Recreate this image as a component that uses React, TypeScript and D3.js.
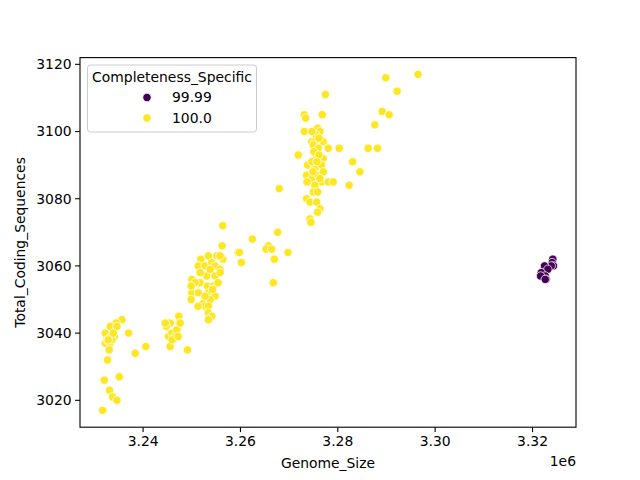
import React from "react";
import * as d3 from "d3";

// Completeness_Specific = 100.0
const genomeSize100: number[] = [
  3235650, 3234480, 3233250, 3234630, 3232230, 3237010, 3234130, 3233460, 3232230, 3233250,
  3232580, 3233600, 3233050, 3232700, 3238380, 3240570, 3232020, 3235100, 3233110, 3233720,
  3234630, 3231670, 3232850, 3233870,
  3247340, 3247470, 3245560, 3244740, 3245210, 3245910, 3246580, 3246930, 3245560, 3249110,
  3244530, 3247610, 3245970, 3247200,
  3256370, 3256220, 3251860, 3253410, 3255140, 3256370, 3255810, 3251360, 3252740, 3254110,
  3254790, 3255810, 3253090, 3254790, 3255810, 3250010, 3251710, 3253210, 3254440, 3250010,
  3251360, 3253410, 3254790, 3249870, 3252390, 3253760, 3252740, 3253410, 3253410, 3254110,
  3253410, 3250690, 3249870, 3251710, 3254270, 3252740, 3255400, 3253760, 3251300,
  3262440, 3267650, 3265720, 3265250, 3266420, 3266950, 3259500, 3259770, 3260180, 3266750,
  3269760,
  3277450, 3273100, 3273390, 3276800, 3273100, 3275850, 3276320, 3275500, 3274620, 3275300,
  3277000, 3274950, 3275970, 3278030, 3280280, 3271870, 3275650, 3277000, 3273800, 3275300,
  3276670, 3273600, 3274740, 3275970, 3277000, 3276670, 3278030, 3279050, 3275300, 3274950,
  3267980, 3273600, 3274270, 3275650, 3276320, 3275850, 3274270, 3274480,
  3283030, 3284530, 3282330, 3286230, 3288160, 3287600, 3289100, 3290540, 3289860, 3292180,
  3296490,
  3275090, 3276110, 3274680, 3275710, 3274890, 3276320, 3273670, 3275850, 3276110, 3274680,
];
const codingSeq100: number[] = [
  3044, 3043, 3042, 3042, 3040, 3040, 3039, 3039, 3037, 3037,
  3038, 3038, 3035, 3032, 3034, 3036, 3026, 3027, 3023, 3021,
  3020, 3017, 3038, 3040,
  3045, 3043, 3043, 3042, 3039, 3040, 3039, 3041, 3036, 3035,
  3043, 3043, 3038, 3039,
  3072, 3066, 3062, 3063, 3063, 3062, 3063, 3060, 3060, 3061,
  3060, 3059, 3057, 3057, 3058, 3056, 3055, 3054, 3054, 3052,
  3052, 3052, 3051, 3050, 3049, 3050, 3048, 3048, 3046, 3045,
  3044, 3055, 3054, 3058, 3053, 3051, 3055, 3059, 3048,
  3068, 3070, 3066, 3065, 3065, 3062, 3064, 3064, 3061, 3055,
  3064,
  3111, 3105, 3104, 3105, 3100, 3101, 3100, 3099, 3097, 3097,
  3097, 3096, 3095, 3095, 3095, 3093, 3092, 3092, 3090, 3089,
  3090, 3087, 3086, 3087, 3088, 3085, 3085, 3085, 3084, 3082,
  3083, 3080, 3079, 3079, 3077, 3076, 3074, 3073,
  3091, 3088, 3084, 3095, 3095, 3102, 3106, 3105, 3116, 3112,
  3117,
  3094, 3093, 3091, 3091, 3088, 3086, 3085, 3082, 3098, 3100,
];

// Completeness_Specific = 99.99
const genomeSize9999: number[] = [
  3324170, 3324050, 3324300, 3323850, 3322470, 3323150, 3321790, 3322610, 3321650, 3322790, 3322610,
];
const codingSeq9999: number[] = [
  3062, 3061, 3060, 3060, 3060, 3059, 3058, 3057, 3057, 3056, 3056,
];

const legendTitle = "Completeness_Specific";
const legendLabels = ["99.99", "100.0"];
const seriesColors = ["#440154", "#fde725"];
const xTicks = [3240000, 3260000, 3280000, 3300000, 3320000];
const yTicks = [3020, 3040, 3060, 3080, 3100, 3120];

export default function App() {
  const W = 640, H = 480;
  const left = 80, right = 576, top = 57.6, bottom = 427.2;
  const allX = [...genomeSize100, ...genomeSize9999];
  const allY = [...codingSeq100, ...codingSeq9999];
  const [x0, x1] = d3.extent(allX) as [number, number];
  const [y0, y1] = d3.extent(allY) as [number, number];
  const px = (x1 - x0) * 0.05, py = (y1 - y0) * 0.05;
  const x = d3.scaleLinear().domain([x0 - px, x1 + px]).range([left, right]);
  const y = d3.scaleLinear().domain([y0 - py, y1 + py]).range([bottom, top]);
  const font = "DejaVu Sans, sans-serif";
  const fs = 13.9;
  const r = 4.2;

  const series = [
    { xs: genomeSize9999, ys: codingSeq9999, color: seriesColors[0] },
    { xs: genomeSize100, ys: codingSeq100, color: seriesColors[1] },
  ];

  return (
    <div style={{ position: "absolute", left: 0, top: 0 }}>
      <svg width={W} height={H} style={{ display: "block", background: "#fff" }}>
        <rect x={0} y={0} width={W} height={H} fill="#fff" />
        {/* points */}
        <g>
          {series.map((s, si) =>
            s.xs.map((gx, i) => (
              <circle
                key={`${si}-${i}`}
                cx={x(gx)}
                cy={y(s.ys[i])}
                r={r}
                fill={s.color}
                stroke="#fff"
                strokeWidth={0.75}
              />
            ))
          )}
        </g>
        {/* spines */}
        <rect x={left} y={top} width={right - left} height={bottom - top} fill="none" stroke="#000" strokeWidth={1.1} />
        {/* x ticks */}
        {xTicks.map((t) => (
          <g key={t} transform={`translate(${x(t)},${bottom})`}>
            <line y1={0} y2={4.9} stroke="#000" strokeWidth={1.1} />
            <text y={18.5} textAnchor="middle" fontFamily={font} fontSize={fs} fill="#000">
              {(t / 1e6).toFixed(2)}
            </text>
          </g>
        ))}
        <text x={right} y={466} textAnchor="end" fontFamily={font} fontSize={fs} fill="#000">1e6</text>
        {/* y ticks */}
        {yTicks.map((t) => (
          <g key={t} transform={`translate(${left},${y(t)})`}>
            <line x1={0} x2={-4.9} stroke="#000" strokeWidth={1.1} />
            <text x={-8.4} dy="0.35em" textAnchor="end" fontFamily={font} fontSize={fs} fill="#000">
              {t}
            </text>
          </g>
        ))}
        {/* axis labels */}
        <text x={(left + right) / 2} y={468} textAnchor="middle" fontFamily={font} fontSize={fs} fill="#000">
          Genome_Size
        </text>
        <text
          transform={`translate(25,${(top + bottom) / 2}) rotate(-90)`}
          textAnchor="middle"
          fontFamily={font}
          fontSize={fs}
          fill="#000"
        >
          Total_Coding_Sequences
        </text>
        {/* legend */}
        <g>
          <rect x={87.5} y={65} width={169} height={67} rx={3} fill="#fff" fillOpacity={0.8} stroke="#cccccc" strokeWidth={1} />
          <text x={172} y={82} textAnchor="middle" fontFamily={font} fontSize={fs} fill="#000">{legendTitle}</text>
          {legendLabels.map((lab, i) => (
            <g key={lab}>
              <circle cx={147} cy={97.5 + i * 20.5} r={r} fill={seriesColors[i]} stroke="#fff" strokeWidth={0.75} />
              <text x={172} y={97.5 + i * 20.5} dy="0.35em" fontFamily={font} fontSize={fs} fill="#000">{lab}</text>
            </g>
          ))}
        </g>
      </svg>
    </div>
  );
}
